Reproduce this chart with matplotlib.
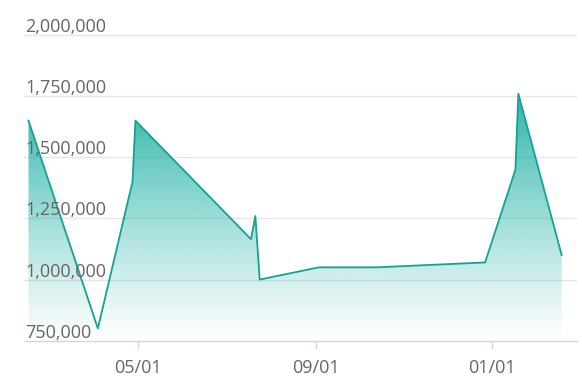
import matplotlib.pyplot as plt
import matplotlib.dates as mdates
import matplotlib.transforms as mtransforms
import numpy as np
from datetime import date

# values
dates = [date(2021, 2, 14), date(2021, 4, 3), date(2021, 4, 27), date(2021, 4, 29),
         date(2021, 7, 18), date(2021, 7, 21), date(2021, 7, 24), date(2021, 9, 3),
         date(2021, 10, 13), date(2021, 12, 27), date(2022, 1, 17), date(2022, 1, 19),
         date(2022, 2, 18)]
values = [1650000, 800000, 1400000, 1650000,
          1165000, 1260000, 1000000, 1050000,
          1050000, 1070000, 1450000, 1760000,
          1100000]
y_ticks = [750000, 1000000, 1250000, 1500000, 1750000, 2000000]
x_ticks = [date(2021, 5, 1), date(2021, 9, 1), date(2022, 1, 1)]

teal = np.array([32, 178, 166]) / 255
line_color = "#14a196"
grid_color = "#e6e6e6"
axis_color = "#ccd6eb"
label_color = "#666666"
plt.rcParams["font.family"] = ["Open Sans", "DejaVu Sans"]

fig = plt.figure(figsize=(5.82, 3.91), dpi=100)
ax = fig.add_axes([24 / 582, (391 - 340.7) / 391, 553 / 582, 305.7 / 391])

px_per_day = 1.445
x_may = mdates.date2num(date(2021, 5, 1))
xmin = x_may + (24 - 138.3) / px_per_day
xmax = x_may + (577 - 138.3) / px_per_day
ymin, ymax = y_ticks[0], y_ticks[-1]

for v in y_ticks[1:]:
    ax.axhline(v, color=grid_color, lw=1, zorder=1)

# gradient fill under the line
top = max(values)
grad = np.linspace(1, 0, 256)
rgba = np.zeros((256, 1, 4))
rgba[..., :3] = teal
rgba[..., 3] = (grad ** 1.1 * 0.95)[:, None]
im = ax.imshow(rgba, extent=[xmin, xmax, ymin, top], aspect="auto",
               origin="upper", zorder=2, interpolation="bilinear")
poly = ax.fill_between(dates, values, ymin, color="none", lw=0)
im.set_clip_path(poly.get_paths()[0], transform=ax.transData)

ax.plot(dates, values, color=line_color, lw=1.3, zorder=3)

ax.set_xlim(xmin, xmax)
ax.set_ylim(ymin, ymax)

ax.set_yticks([])
ax.set_xticks(x_ticks)
ax.xaxis.set_major_formatter(mdates.DateFormatter("%m/%d"))
ax.tick_params(axis="x", length=6, width=1, color=axis_color,
               labelcolor=label_color, labelsize=13, pad=7)
for s in ["top", "right", "left"]:
    ax.spines[s].set_visible(False)
ax.spines["bottom"].set_color(axis_color)
ax.spines["bottom"].set_linewidth(1)
ax.spines["bottom"].set_zorder(4)

trans = mtransforms.blended_transform_factory(ax.transAxes, ax.transData)
trans = mtransforms.offset_copy(trans, fig=fig, x=0, y=3, units="dots")
for v in y_ticks:
    ax.text(1 / 553, v, f"{v:,}", transform=trans, ha="left", va="baseline",
            fontsize=13, color=label_color, zorder=5)

fig.savefig("out.png", dpi=100)
